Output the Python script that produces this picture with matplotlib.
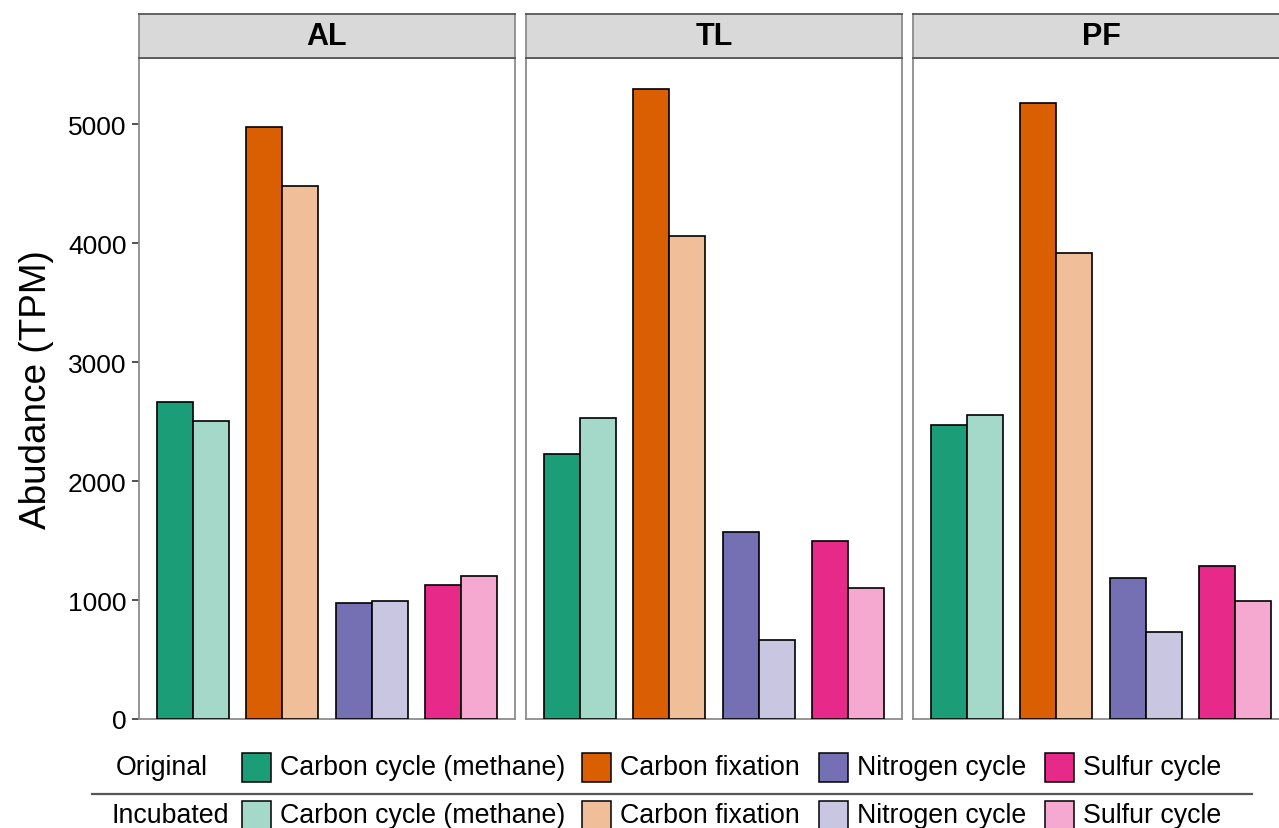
import matplotlib
matplotlib.use('Agg')
import matplotlib.pyplot as plt
from matplotlib.patches import Rectangle
from matplotlib.lines import Line2D
import numpy as np

plt.rcParams['font.family'] = ['Liberation Sans', 'DejaVu Sans']

# ---------------- data ----------------
sites = ['AL', 'TL', 'PF']
categories = ['Carbon cycle (methane)', 'Carbon fixation', 'Nitrogen cycle', 'Sulfur cycle']
treatments = ['Original', 'Incubated']

original_AL = [2665, 4975, 975, 1128]
incubated_AL = [2505, 4480, 992, 1203]
original_TL = [2228, 5292, 1572, 1497]
incubated_TL = [2530, 4060, 665, 1102]
original_PF = [2472, 5176, 1185, 1287]
incubated_PF = [2555, 3917, 731, 992]

values = {
    'AL': (original_AL, incubated_AL),
    'TL': (original_TL, incubated_TL),
    'PF': (original_PF, incubated_PF),
}

yticks = [0, 1000, 2000, 3000, 4000, 5000]

colors_original = ['#1B9E77', '#D95F02', '#7570B3', '#E7298A']
colors_incubated = ['#A4D8C9', '#F0BF9A', '#C8C6E1', '#F5A9D0']

# ---------------- figure ----------------
W, H = 1279, 829
fig = plt.figure(figsize=(W / 100, H / 100), dpi=100)

def fx(x):
    return x / W

def fy(y):
    return 1 - y / H

panel_left0 = 139
panel_w = 376
panel_gap = 11
panel_top = 59
panel_bot = 720
strip_top = 15

edge_gray = '#8C8C8C'
strip_edge = '#555555'

x = np.arange(1, len(categories) + 1)
bw = 0.4

for i, site in enumerate(sites):
    left = panel_left0 + i * (panel_w + panel_gap)
    ax = fig.add_axes([fx(left), fy(panel_bot), panel_w / W, (panel_bot - panel_top) / H])
    orig, inc = values[site]
    ax.bar(x - bw / 2, orig, width=bw, color=colors_original, edgecolor='black', linewidth=1.2, zorder=3)
    ax.bar(x + bw / 2, inc, width=bw, color=colors_incubated, edgecolor='black', linewidth=1.2, zorder=3)
    ax.set_xlim(0.4, 4.6)
    ax.set_ylim(0, 5555)
    ax.set_xticks([])
    for sp in ax.spines.values():
        sp.set_color(edge_gray)
        sp.set_linewidth(1.3)
    if i == 0:
        ax.set_yticks(yticks)
        ax.set_yticklabels([str(t) for t in yticks], fontsize=19)
        ax.tick_params(axis='y', length=5, width=1.2, color='#333333', pad=4, labelcolor='black')
        ax.set_ylabel('Abudance (TPM)', fontsize=26.6, labelpad=10)
    else:
        ax.set_yticks([])

    sax = fig.add_axes([fx(left), fy(panel_top), panel_w / W, (panel_top - strip_top) / H])
    sax.set_facecolor('#D9D9D9')
    sax.set_xticks([])
    sax.set_yticks([])
    for name, sp in sax.spines.items():
        sp.set_linewidth(1.3)
        sp.set_color(strip_edge if name in ('top', 'bottom') else edge_gray)
    sax.text(0.5, 0.5, site, ha='center', va='center', fontsize=22, fontweight='bold',
             transform=sax.transAxes)

# ---------------- legend ----------------
row_y = [768, 816]
key_x = [242, 582, 819, 1045]
key_w, key_h = 29, 29
label_x = [116, 112]

for r, (treat, cols) in enumerate(zip(treatments, [colors_original, colors_incubated])):
    yy = row_y[r]
    fig.text(fx(label_x[r]), fy(yy), treat, ha='left', va='center', fontsize=19.3)
    for k, (cat, c) in enumerate(zip(categories, cols)):
        rect = Rectangle((fx(key_x[k]), fy(yy + key_h / 2)), key_w / W, key_h / H,
                         facecolor=c, edgecolor='black', linewidth=1.1,
                         transform=fig.transFigure)
        fig.add_artist(rect)
        fig.text(fx(key_x[k] + key_w + 9), fy(yy), cat, ha='left', va='center', fontsize=19.3)

fig.add_artist(Line2D([fx(92), fx(1252)], [fy(795), fy(795)], color='#555555', linewidth=1.6,
                      transform=fig.transFigure))

fig.savefig('out.png', dpi=100)
